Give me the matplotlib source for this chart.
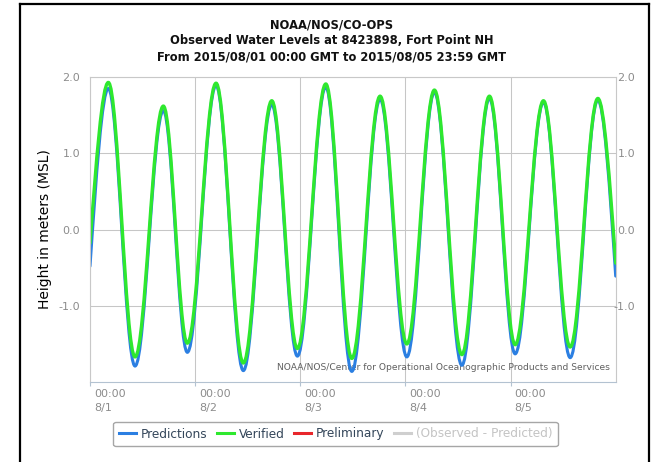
import matplotlib
matplotlib.use("Agg")
import matplotlib.pyplot as plt
from matplotlib.path import Path
from matplotlib.patches import PathPatch
from matplotlib.lines import Line2D
from matplotlib.transforms import ScaledTranslation

# ---- data (hours since 2015/08/01 00:00 GMT) ----
# high / low water times, plus the first and last sample of the window
EXTREME_HOURS = [0.0, 4.18, 10.28, 16.74, 22.22, 28.77, 35.0, 41.49, 47.34,
                 53.82, 59.76, 66.22, 72.32, 78.62, 84.88, 91.18, 97.05,
                 103.51, 109.61, 115.93, 120.0]
PREDICTIONS = [-0.48, 1.85, -1.79, 1.56, -1.61, 1.89, -1.85, 1.64, -1.66,
               1.87, -1.86, 1.71, -1.67, 1.80, -1.78, 1.72, -1.63,
               1.67, -1.68, 1.70, -0.61]
VERIFIED = [-0.18, 1.93, -1.67, 1.62, -1.49, 1.92, -1.75, 1.69, -1.56,
            1.91, -1.69, 1.75, -1.50, 1.83, -1.64, 1.75, -1.51,
            1.69, -1.54, 1.72, -0.44]

X_TICKS = [0, 24, 48, 72, 96]
X_TICK_LABELS = ["00:00\n8/1", "00:00\n8/2", "00:00\n8/3", "00:00\n8/4", "00:00\n8/5"]
Y_TICKS = [-1.0, 0.0, 1.0, 2.0]
Y_TICK_LABELS = ["-1.0", "0.0", "1.0", "2.0"]
LEGEND_LABELS = ["Predictions", "Verified", "Preliminary", "(Observed - Predicted)"]

TITLE = ("NOAA/NOS/CO-OPS\n"
         "Observed Water Levels at 8423898, Fort Point NH\n"
         "From 2015/08/01 00:00 GMT to 2015/08/05 23:59 GMT")
WATERMARK = "NOAA/NOS/Center for Operational Oceanographic Products and Services"

C_PRED = "#2b7fe2"
C_VER = "#2ee82e"
C_PRELIM = "#e8262b"
C_DIFF = "#cfcfcf"


def tide_path(hours, levels):
    """Smooth curve through high/low waters, drawn as Bezier segments."""
    verts = [(hours[0], levels[0])]
    codes = [Path.MOVETO]
    n = len(hours)
    for i in range(n - 1):
        t0, v0, t1, v1 = hours[i], levels[i], hours[i + 1], levels[i + 1]
        dt, dv = t1 - t0, v1 - v0
        end0, end1 = (i == 0), (i + 1 == n - 1)
        k = 1 / 3 if (end0 or end1) else 0.364
        s0 = 1.5 * dv / dt if end0 else 0.0
        s1 = 1.5 * dv / dt if end1 else 0.0
        verts += [(t0 + k * dt, v0 + s0 * k * dt),
                  (t1 - k * dt, v1 - s1 * k * dt),
                  (t1, v1)]
        codes += [Path.CURVE4] * 3
    return Path(verts, codes)


W, H = 654, 462
fig = plt.figure(figsize=(W / 100, H / 100), dpi=100)
fig.patch.set_facecolor("white")

L, R, T, B = 90, 615.7, 76.7, 381.7
ax = fig.add_axes([L / W, 1 - B / H, (R - L) / W, (B - T) / H])
ax.set_xlim(0, 120)
ax.set_ylim(-1.995, 2.005)

ax.add_patch(PathPatch(tide_path(EXTREME_HOURS, PREDICTIONS), facecolor="none",
                       edgecolor=C_PRED, lw=2.2, capstyle="round",
                       joinstyle="round", zorder=2))
ax.add_patch(PathPatch(tide_path(EXTREME_HOURS, VERIFIED), facecolor="none",
                       edgecolor=C_VER, lw=2.4, capstyle="round",
                       joinstyle="round", zorder=2.1))

for s in ["left", "top", "right"]:
    ax.spines[s].set_color("#c8c8c8")
    ax.spines[s].set_linewidth(0.8)
ax.spines["bottom"].set_color("#b3c2d1")
ax.spines["bottom"].set_linewidth(0.8)

ax.set_yticks(Y_TICKS, Y_TICK_LABELS)
ax.set_xticks(X_TICKS, X_TICK_LABELS)
ax.grid(True, color="#c6c6c6", lw=0.75, zorder=0)
ax.set_axisbelow(True)
ax.tick_params(axis="y", length=0, pad=7, labelsize=8, labelcolor="#8c8c8c")
ax.tick_params(axis="x", length=3, width=0.8, color="#b3c2d1", pad=2,
               labelsize=8, labelcolor="#8c8c8c")
shift = ScaledTranslation(3 / 72, 0, fig.dpi_scale_trans)
for lab in ax.get_xticklabels():
    lab.set_ha("left")
    lab.set_multialignment("left")
    lab.set_linespacing(1.55)
    lab.set_transform(lab.get_transform() + shift)

ax2 = ax.twinx()
ax2.set_ylim(ax.get_ylim())
ax2.set_yticks(Y_TICKS, Y_TICK_LABELS)
ax2.tick_params(axis="y", length=0, pad=13.9, labelsize=8, labelcolor="#8c8c8c")
for lab in ax2.get_yticklabels():
    lab.set_ha("right")
for s in ax2.spines.values():
    s.set_visible(False)

ax.text(0.989, 0.048, WATERMARK, transform=ax.transAxes, ha="right",
        va="center", fontsize=6.6, color="#606060", zorder=1.5)

fig.text(45.5 / W, 1 - 229 / H, "Height in meters (MSL)", rotation=90,
         ha="center", va="center", fontsize=10, color="black")

fig.text(332 / W, 1 - 41 / H, TITLE, ha="center", va="center",
         multialignment="center", fontsize=8.3, fontweight="bold",
         color="#111111", linespacing=1.3)

handles = [Line2D([], [], color=c, lw=2.2) for c in (C_PRED, C_VER, C_PRELIM, C_DIFF)]
leg = fig.legend(handles, LEGEND_LABELS, loc="center",
                 bbox_to_anchor=(335.5 / W, 1 - 434 / H), ncol=4,
                 fontsize=8.7, handlelength=1.4, handletextpad=0.4,
                 columnspacing=0.8, borderpad=0.45, fancybox=True,
                 framealpha=1, edgecolor="#a6a6a6")
leg.get_frame().set_linewidth(1.0)
for txt, col in zip(leg.get_texts(), ["#34465a", "#34465a", "#34465a", "#c4c4c4"]):
    txt.set_color(col)

# outer black frame (open at the bottom, as in the screenshot)
fx0, fx1, fy = 20.5 / W, 649 / W, 1 - 3.5 / H
fig.add_artist(Line2D([fx0, fx0], [0, fy], transform=fig.transFigure, color="black", lw=1.6))
fig.add_artist(Line2D([fx1, fx1], [0, fy], transform=fig.transFigure, color="black", lw=1.6))
fig.add_artist(Line2D([fx0, fx1], [fy, fy], transform=fig.transFigure, color="black", lw=1.6))

fig.savefig("out.png", dpi=100)
